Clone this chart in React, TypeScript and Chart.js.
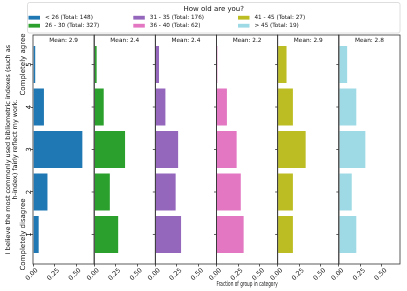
import { useEffect, useRef } from 'react';
import { Chart, registerables } from 'chart.js';
Chart.register(...registerables);

const categories = [1, 2, 3, 4, 5];
const groupNames = ['< 26', '26 - 30', '31 - 35', '36 - 40', '41 - 45', '> 45'];
const groupTotals = [148, 327, 176, 62, 27, 19];
const groupMeans = ['2.9', '2.4', '2.4', '2.2', '2.9', '2.8'];
const groupColors = ['#1f77b4', '#2ca02c', '#9467bd', '#e377c2', '#bcbd22', '#9edae5'];

const fracUnder26 = [0.074, 0.176, 0.581, 0.135, 0.034];
const frac26to30 = [0.287, 0.19, 0.367, 0.119, 0.037];
const frac31to35 = [0.307, 0.244, 0.273, 0.125, 0.051];
const frac36to40 = [0.323, 0.29, 0.242, 0.129, 0.016];
const frac41to45 = [0.185, 0.185, 0.333, 0.185, 0.111];
const fracOver45 = [0.211, 0.158, 0.316, 0.211, 0.105];
const groupFractions = [fracUnder26, frac26to30, frac31to35, frac36to40, frac41to45, fracOver45];

const xTickValues = [0, 0.25, 0.5];
const xMax = 0.71;
const yMin = 0.305;
const yMax = 5.695;
const yTickLabels = ['1', '2', '3', '4', '5'];
const yEndLabels = ['Completely disagree', '', '', '', 'Completely agree'];
const yTitle = ['I believe the most commonly used bibliometric indexes (such as', 'h-index) fairly reflect my work.'];
const xTitle = 'Fraction of group in category';
const legendTitle = 'How old are you?';

const FONT = 'DejaVu Sans';
const TEXT = '#111';
const SPINE = '#333';

const panelPlugin = {
  id: 'panels',
  afterDatasetsDraw(chart: any) {
    const { ctx, chartArea } = chart;
    const yScale = chart.scales.y;
    ctx.save();
    groupNames.forEach((_, k) => {
      const s = chart.scales['x' + k];
      ctx.strokeStyle = SPINE;
      ctx.lineWidth = 0.8;
      ctx.strokeRect(s.left, chartArea.top, s.right - s.left, chartArea.bottom - chartArea.top);
      if (k > 0) {
        categories.forEach((c) => {
          const y = yScale.getPixelForValue(c);
          ctx.beginPath();
          ctx.moveTo(s.left - 2.5, y);
          ctx.lineTo(s.left, y);
          ctx.stroke();
        });
      }
      ctx.fillStyle = TEXT;
      ctx.font = `5.8px "${FONT}"`;
      ctx.textAlign = 'center';
      ctx.textBaseline = 'middle';
      ctx.fillText('Mean: ' + groupMeans[k], (s.left + s.right) / 2, chartArea.top + 5.5);
    });
    ctx.restore();
  },
  afterDraw(chart: any) {
    const { ctx } = chart;
    const yScale = chart.scales.y;
    ctx.save();
    ctx.fillStyle = TEXT;
    ctx.font = `7px "${FONT}"`;
    ctx.textAlign = 'center';
    ctx.textBaseline = 'middle';
    categories.forEach((c, i) => {
      if (!yEndLabels[i]) return;
      const y = yScale.getPixelForValue(c);
      ctx.save();
      ctx.translate(22.7, y);
      ctx.rotate(-Math.PI / 2);
      ctx.fillText(yEndLabels[i], 0, 0);
      ctx.restore();
    });
    const bx = 27.5, by = 2.5, bw = 372.5, bh = 30.5, r = 2;
    ctx.beginPath();
    ctx.moveTo(bx + r, by);
    ctx.lineTo(bx + bw - r, by);
    ctx.quadraticCurveTo(bx + bw, by, bx + bw, by + r);
    ctx.lineTo(bx + bw, by + bh - r);
    ctx.quadraticCurveTo(bx + bw, by + bh, bx + bw - r, by + bh);
    ctx.lineTo(bx + r, by + bh);
    ctx.quadraticCurveTo(bx, by + bh, bx, by + bh - r);
    ctx.lineTo(bx, by + r);
    ctx.quadraticCurveTo(bx, by, bx + r, by);
    ctx.closePath();
    ctx.fillStyle = 'rgba(255,255,255,0.8)';
    ctx.fill();
    ctx.strokeStyle = '#d6d6d6';
    ctx.lineWidth = 0.8;
    ctx.stroke();
    ctx.fillStyle = TEXT;
    ctx.font = `7px "${FONT}"`;
    ctx.textAlign = 'center';
    ctx.fillText(legendTitle, bx + bw / 2, 9.3);
    const colX = [28.5, 133.3, 238, 337.5];
    const rowY = [17.7, 25.7];
    ctx.font = `5.7px "${FONT}"`;
    ctx.textAlign = 'left';
    chart.data.datasets.forEach((ds: any, i: number) => {
      const col = Math.floor(i / 2);
      const row = i % 2;
      const x = colX[col];
      const y = rowY[row];
      ctx.fillStyle = ds.backgroundColor;
      ctx.fillRect(x, y - 1.9, 11.5, 3.8);
      ctx.fillStyle = TEXT;
      ctx.fillText(ds.label, x + 16.5, y);
    });
    ctx.restore();
  },
};

export default function App() {
  const canvasRef = useRef<HTMLCanvasElement | null>(null);
  useEffect(() => {
    if (!canvasRef.current) return;
    Chart.defaults.font.family = FONT;
    const scales: any = {
      y: {
        type: 'linear',
        position: 'left',
        min: yMin,
        max: yMax,
        offset: false,
        afterBuildTicks: (s: any) => {
          s.ticks = categories.map((v) => ({ value: v }));
        },
        afterFit: (s: any) => {
          s.width = 33;
        },
        grid: { offset: false, drawOnChartArea: false, drawTicks: true, tickLength: 2.5, color: SPINE, lineWidth: 0.8 },
        border: { display: false },
        ticks: {
          autoSkip: false,
          minRotation: 90,
          maxRotation: 90,
          padding: 1,
          labelOffset: -2.2,
          color: TEXT,
          font: { size: 7 },
          callback: (_v: any, i: number) => yTickLabels[i],
        },
        title: { display: true, text: yTitle, color: TEXT, font: { size: 6.5 }, padding: { top: 4, bottom: 0 } },
      },
    };
    groupNames.forEach((_, k) => {
      scales['x' + k] = {
        type: 'linear',
        position: 'bottom',
        stack: 'panels',
        stackWeight: 1,
        min: 0,
        max: xMax,
        offset: false,
        afterBuildTicks: (s: any) => {
          s.ticks = xTickValues.map((v) => ({ value: v }));
        },
        afterFit: (s: any) => {
          s.height = 27;
        },
        grid: { drawOnChartArea: false, drawTicks: true, tickLength: 2.5, color: SPINE, lineWidth: 0.8 },
        border: { display: false },
        ticks: {
          autoSkip: false,
          minRotation: 45,
          maxRotation: 45,
          padding: 0,
          labelOffset: 4,
          color: TEXT,
          font: { size: 6.5 },
          callback: (v: any) => Number(v).toFixed(2),
        },
        title:
          k === 3
            ? { display: true, text: xTitle, color: TEXT, font: { size: 7 }, padding: { top: 0, bottom: 2.8 } }
            : { display: false },
      };
    });
    const chart = new Chart(canvasRef.current, {
      type: 'bar',
      data: {
        datasets: groupNames.map((name, k) => ({
          label: `${name} (Total: ${groupTotals[k]})`,
          data: categories.map((c, i) => ({ x: groupFractions[k][i], y: c })),
          xAxisID: 'x' + k,
          yAxisID: 'y',
          backgroundColor: groupColors[k],
          borderColor: '#ffffff',
          borderWidth: 0.7,
          grouped: false,
          categoryPercentage: 0.9,
          barPercentage: 1.0,
        })),
      },
      options: {
        animation: false,
        responsive: true,
        maintainAspectRatio: false,
        indexAxis: 'y',
        layout: { padding: { left: 0, top: 35, right: 7, bottom: 0 } },
        plugins: { legend: { display: false }, tooltip: { enabled: false }, title: { display: false } },
        scales,
      } as any,
      plugins: [panelPlugin],
    });
    return () => chart.destroy();
  }, []);
  return (
    <div style={{ position: 'fixed', left: 0, top: 0, width: 407, height: 291, background: '#fff' }}>
      <canvas ref={canvasRef} />
    </div>
  );
}
